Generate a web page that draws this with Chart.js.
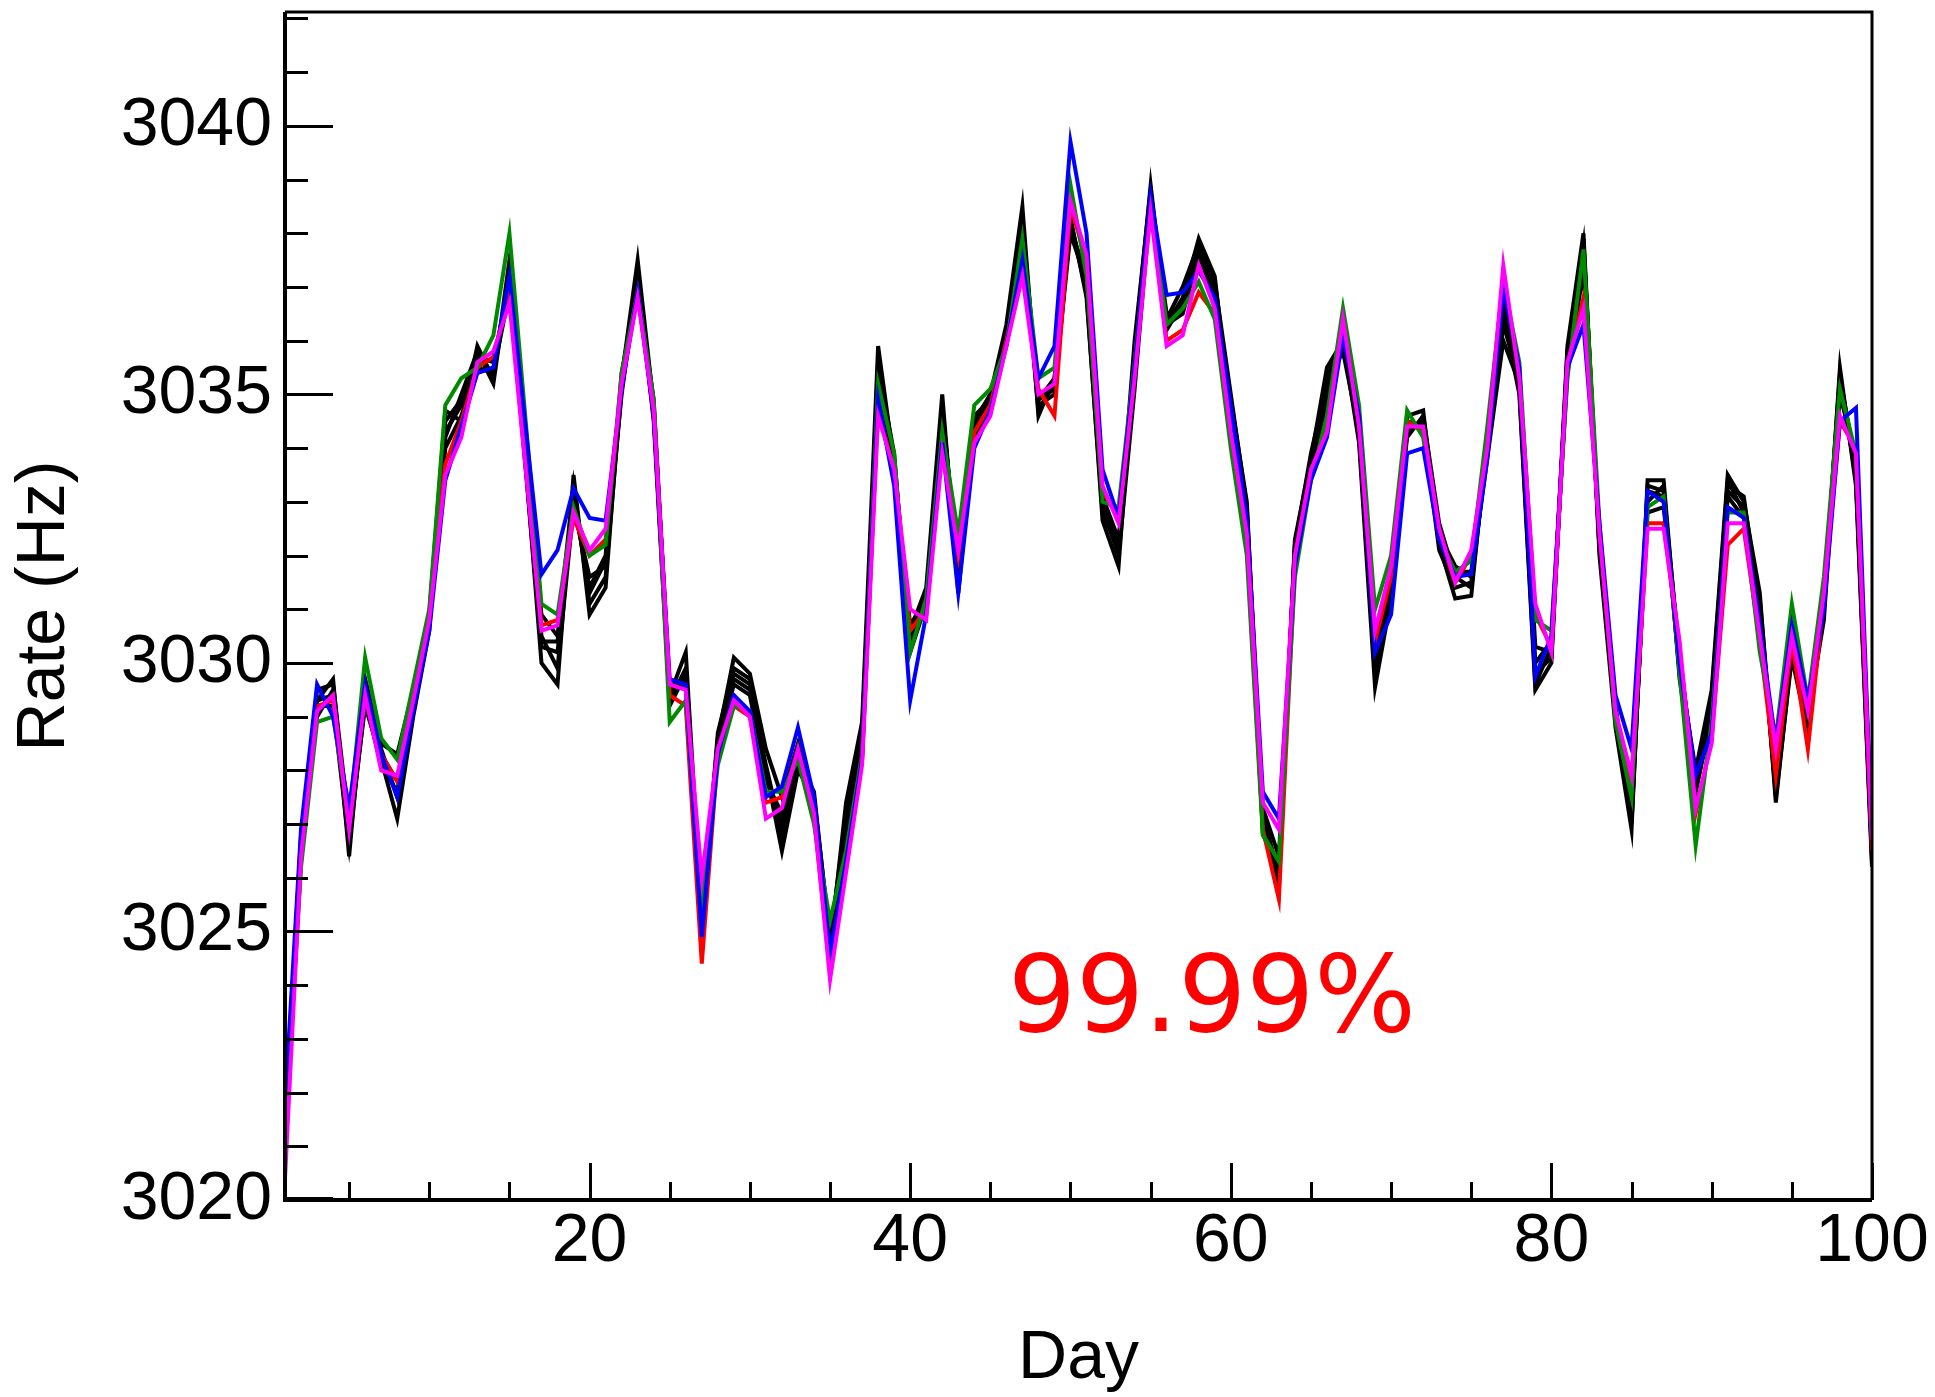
<!DOCTYPE html>
<html>
<head>
<meta charset="utf-8">
<title>Rate vs Day</title>
<script src="https://cdn.jsdelivr.net/npm/chart.js@4.4.1/dist/chart.umd.min.js"></script>
<style>
  html, body { margin: 0; padding: 0; background: #fff; }
  canvas { display: block; }
</style>
</head>
<body>
<canvas id="rateChart" width="1935" height="1397"></canvas>
<script>
// days with a measurement (no point on day 16)
const days = [
  1, 2, 3, 4, 5, 6, 7, 8, 9, 10,
  11, 12, 13, 14, 15, 17, 18, 19, 20, 21,
  22, 23, 24, 25, 26, 27, 28, 29, 30, 31,
  32, 33, 34, 35, 36, 37, 38, 39, 40, 41,
  42, 43, 44, 45, 46, 47, 48, 49, 50, 51,
  52, 53, 54, 55, 56, 57, 58, 59, 60, 61,
  62, 63, 64, 65, 66, 67, 68, 69, 70, 71,
  72, 73, 74, 75, 76, 77, 78, 79, 80, 81,
  82, 83, 84, 85, 86, 87, 88, 89, 90, 91,
  92, 93, 94, 95, 96, 97, 98, 99, 100
];

const rateMagenta = [
  3020.4, 3026.4, 3029.1, 3029.4, 3026.9, 3029.4, 3028.0, 3027.9, 3029.3, 3030.8,
  3033.5, 3034.2, 3035.6, 3035.8, 3036.7, 3030.6, 3030.7, 3032.8, 3032.1, 3032.5,
  3035.2, 3036.8, 3034.7, 3029.6, 3029.5, 3026.0, 3028.4, 3029.3, 3029.0, 3027.1,
  3027.3, 3028.4, 3027.2, 3024.1, 3026.1, 3028.1, 3034.6, 3033.6, 3031.0, 3030.8,
  3033.9, 3032.1, 3034.1, 3034.6, 3035.9, 3037.2, 3035.0, 3035.2, 3038.6, 3037.6,
  3033.3, 3032.6, 3035.3, 3038.4, 3035.9, 3036.1, 3037.4, 3036.6, 3034.3, 3032.4,
  3027.4, 3026.9, 3032.0, 3033.6, 3034.3, 3036.4, 3034.4, 3030.6, 3031.8, 3034.4,
  3034.4, 3032.5, 3031.5, 3032.1, 3034.0, 3037.4, 3035.3, 3031.1, 3030.2, 3035.6,
  3036.6, 3032.4, 3029.1, 3027.9, 3032.5, 3032.5, 3030.4, 3027.3, 3028.5, 3032.6,
  3032.6, 3030.5, 3028.4, 3030.5, 3029.1, 3031.3, 3034.6, 3033.9, 3026.7
];

const rateBlue = [
  3021.8, 3026.9, 3029.6, 3029.0, 3027.3, 3029.6, 3028.3, 3027.5, 3029.1, 3030.6,
  3033.4, 3034.4, 3035.4, 3035.5, 3037.2, 3031.65, 3032.1, 3033.25, 3032.7, 3032.65,
  3035.1, 3036.9, 3034.6, 3029.7, 3029.6, 3024.9, 3028.3, 3029.4, 3029.1, 3027.5,
  3027.7, 3028.8, 3027.5, 3024.6, 3026.3, 3028.2, 3034.9, 3033.3, 3029.3, 3030.9,
  3034.1, 3031.3, 3034.0, 3034.7, 3035.9, 3037.5, 3035.3, 3035.9, 3039.7, 3038.0,
  3033.6, 3032.7, 3035.5, 3038.7, 3036.85, 3036.9, 3037.3, 3036.8, 3034.8, 3032.7,
  3027.6, 3027.1, 3031.8, 3033.4, 3034.2, 3036.1, 3034.6, 3030.2, 3030.9, 3033.9,
  3034.0, 3032.3, 3031.6, 3031.65, 3033.8, 3037.0, 3035.5, 3029.75, 3030.5, 3035.5,
  3036.3, 3032.6, 3029.4, 3028.4, 3033.2, 3033.0, 3030.0, 3027.9, 3028.7, 3032.9,
  3032.7, 3030.7, 3028.5, 3030.7, 3029.3, 3031.0, 3034.5, 3034.75, 3026.7
];

const rateGreen = [
  3021.2, 3026.2, 3028.9, 3029.0, 3027.1, 3030.1, 3028.6, 3028.2, 3029.6, 3031.0,
  3034.8, 3035.3, 3035.5, 3036.1, 3038.0, 3031.1, 3030.9, 3032.9, 3032.0, 3032.2,
  3035.4, 3036.9, 3034.9, 3028.9, 3029.3, 3025.4, 3028.1, 3029.2, 3029.1, 3027.6,
  3027.6, 3028.2, 3027.0, 3025.2, 3026.5, 3028.3, 3035.2, 3033.9, 3030.2, 3031.2,
  3034.3, 3032.4, 3034.8, 3035.1, 3035.9, 3037.9, 3035.3, 3035.5, 3038.9, 3037.2,
  3033.0, 3032.9, 3035.6, 3038.6, 3036.3, 3036.6, 3037.1, 3036.4, 3034.0, 3032.0,
  3026.8, 3026.3, 3031.6, 3033.4, 3034.6, 3036.6, 3034.8, 3031.0, 3032.0, 3034.7,
  3034.2, 3032.3, 3031.7, 3031.9, 3034.4, 3037.1, 3035.6, 3030.8, 3030.6, 3035.3,
  3037.7, 3032.6, 3028.9, 3027.5, 3032.9, 3033.1, 3029.8, 3026.6, 3028.9, 3032.8,
  3032.8, 3030.2, 3028.6, 3031.1, 3029.3, 3031.6, 3035.1, 3033.9, 3026.8
];

const rateRed = [
  3020.8, 3026.6, 3029.2, 3029.3, 3027.0, 3029.5, 3028.3, 3027.8, 3029.4, 3030.9,
  3033.7, 3034.5, 3035.5, 3035.7, 3036.9, 3030.7, 3030.8, 3032.7, 3032.0, 3032.3,
  3035.2, 3036.9, 3034.8, 3029.4, 3029.2, 3024.4, 3028.3, 3029.2, 3029.0, 3027.4,
  3027.5, 3028.3, 3027.1, 3024.3, 3026.2, 3028.2, 3034.8, 3033.5, 3030.6, 3031.0,
  3034.0, 3032.0, 3034.3, 3034.8, 3036.0, 3037.4, 3035.1, 3034.6, 3038.5, 3037.5,
  3033.2, 3032.7, 3035.4, 3038.5, 3036.0, 3036.2, 3036.9, 3036.5, 3034.2, 3032.2,
  3026.9, 3025.6, 3031.8, 3033.5, 3034.4, 3036.5, 3034.5, 3030.4, 3031.6, 3034.5,
  3034.3, 3032.4, 3031.5, 3032.0, 3034.1, 3037.2, 3035.4, 3030.9, 3030.3, 3035.5,
  3036.8, 3032.5, 3029.0, 3027.7, 3032.6, 3032.6, 3030.2, 3027.2, 3028.6, 3032.2,
  3032.5, 3030.4, 3027.9, 3030.4, 3028.4, 3031.2, 3034.5, 3034.0, 3026.5
];

// the remaining runs, all drawn in black
const rateBlack = [
  [
    3021.3, 3026.8, 3029.3, 3029.7, 3026.4, 3029.7, 3028.5, 3028.3, 3029.5, 3030.9,
    3034.7, 3034.5, 3035.9, 3035.3, 3037.5, 3030.0, 3029.6, 3033.5, 3030.9, 3031.4,
    3035.3, 3037.5, 3034.8, 3029.4, 3030.2, 3025.2, 3028.6, 3030.1, 3029.8, 3028.4,
    3027.5, 3028.5, 3027.3, 3024.7, 3027.4, 3028.9, 3035.9, 3033.7, 3030.6, 3031.4,
    3035.0, 3031.3, 3034.4, 3035.0, 3036.3, 3038.5, 3034.6, 3035.3, 3038.2, 3036.9,
    3032.65, 3031.8, 3035.8, 3038.9, 3036.3, 3036.8, 3037.9, 3037.2, 3034.6, 3032.8,
    3027.0, 3025.8, 3032.3, 3033.8, 3035.5, 3036.0, 3034.1, 3029.55, 3031.2, 3034.6,
    3034.7, 3032.2, 3031.2, 3031.25, 3034.2, 3036.5, 3035.0, 3029.5, 3030.0, 3035.9,
    3038.0, 3032.0, 3028.8, 3026.9, 3033.4, 3033.4, 3029.9, 3028.0, 3029.5, 3033.5,
    3033.0, 3031.3, 3027.4, 3030.2, 3028.8, 3031.0, 3035.5, 3033.3, 3026.2
  ],
  [
    3021.0, 3026.5, 3029.0, 3029.5, 3026.8, 3029.2, 3028.2, 3027.1, 3029.0, 3030.6,
    3034.5, 3034.9, 3035.4, 3035.5, 3037.0, 3030.3, 3030.2, 3033.2, 3031.3, 3031.9,
    3035.0, 3037.2, 3034.5, 3029.2, 3029.8, 3024.7, 3028.5, 3029.8, 3029.6, 3028.0,
    3026.5, 3028.0, 3027.5, 3024.9, 3027.0, 3028.6, 3035.5, 3033.9, 3030.2, 3031.1,
    3034.6, 3031.6, 3034.6, 3034.9, 3036.2, 3038.1, 3034.8, 3035.0, 3038.2, 3037.0,
    3032.9, 3032.0, 3035.1, 3038.6, 3036.5, 3036.6, 3037.7, 3037.0, 3034.9, 3033.0,
    3026.8, 3026.2, 3032.2, 3033.9, 3035.2, 3035.8, 3034.3, 3029.8, 3031.4, 3034.3,
    3034.5, 3032.4, 3031.8, 3031.6, 3033.8, 3036.0, 3035.2, 3029.8, 3030.1, 3035.7,
    3037.6, 3032.2, 3029.0, 3027.3, 3033.3, 3033.2, 3030.1, 3027.8, 3029.3, 3033.2,
    3032.9, 3031.2, 3027.8, 3030.4, 3029.0, 3030.8, 3035.2, 3033.5, 3026.4
  ],
  [
    3021.5, 3026.7, 3029.5, 3029.6, 3027.0, 3029.5, 3028.4, 3027.5, 3029.2, 3030.8,
    3034.2, 3035.0, 3035.8, 3035.2, 3037.3, 3030.5, 3029.9, 3032.9, 3031.6, 3031.8,
    3035.4, 3037.0, 3034.9, 3029.5, 3029.6, 3025.1, 3028.7, 3029.9, 3029.7, 3027.9,
    3027.0, 3028.2, 3027.6, 3024.8, 3027.2, 3028.7, 3035.4, 3033.8, 3030.4, 3031.2,
    3034.7, 3031.8, 3034.3, 3034.9, 3036.0, 3038.2, 3034.9, 3035.1, 3038.0, 3037.1,
    3033.0, 3032.2, 3036.0, 3038.8, 3036.4, 3037.0, 3037.8, 3037.1, 3035.0, 3032.9,
    3027.2, 3026.0, 3032.2, 3033.7, 3035.0, 3036.2, 3034.6, 3030.1, 3031.5, 3034.2,
    3034.6, 3032.6, 3031.6, 3031.4, 3034.0, 3036.3, 3035.3, 3030.3, 3030.2, 3035.8,
    3037.8, 3032.3, 3029.2, 3027.1, 3033.0, 3033.3, 3029.7, 3027.6, 3029.2, 3033.3,
    3033.1, 3031.0, 3027.6, 3030.3, 3028.9, 3031.2, 3035.3, 3033.7, 3026.5
  ],
  [
    3021.2, 3026.3, 3029.2, 3029.2, 3026.6, 3029.3, 3028.1, 3027.6, 3029.4, 3030.7,
    3034.0, 3034.6, 3035.5, 3035.4, 3036.9, 3030.9, 3030.5, 3033.3, 3031.1, 3031.6,
    3035.1, 3037.1, 3034.6, 3029.3, 3029.9, 3024.9, 3028.4, 3029.7, 3029.5, 3028.1,
    3026.8, 3028.3, 3027.4, 3024.5, 3026.9, 3028.5, 3035.6, 3033.5, 3030.5, 3031.0,
    3034.8, 3031.5, 3034.2, 3034.8, 3036.1, 3038.0, 3034.7, 3035.2, 3038.3, 3036.8,
    3032.8, 3032.1, 3035.6, 3038.7, 3036.2, 3036.7, 3037.6, 3036.9, 3034.7, 3032.6,
    3027.1, 3026.1, 3032.1, 3033.5, 3035.3, 3036.1, 3034.2, 3029.9, 3031.3, 3034.5,
    3034.4, 3032.1, 3031.4, 3031.5, 3034.1, 3036.7, 3035.1, 3029.6, 3030.3, 3035.6,
    3037.9, 3032.1, 3029.0, 3027.0, 3033.2, 3033.1, 3029.8, 3027.9, 3029.4, 3033.4,
    3032.8, 3031.1, 3027.5, 3030.1, 3028.7, 3031.1, 3035.4, 3033.4, 3026.3
  ],
  [
    3020.9, 3026.6, 3029.3, 3029.4, 3026.7, 3029.6, 3028.3, 3027.8, 3029.3, 3030.9,
    3034.3, 3034.8, 3035.7, 3035.6, 3037.1, 3030.4, 3030.4, 3033.0, 3031.4, 3032.0,
    3035.3, 3036.9, 3034.7, 3029.5, 3029.7, 3025.3, 3028.5, 3029.6, 3029.4, 3027.8,
    3027.2, 3028.4, 3027.3, 3024.6, 3026.6, 3028.3, 3035.3, 3033.6, 3030.7, 3031.2,
    3034.4, 3031.9, 3034.5, 3035.0, 3036.1, 3037.8, 3034.9, 3035.3, 3038.1, 3037.2,
    3033.1, 3032.3, 3035.4, 3038.6, 3036.3, 3036.5, 3037.6, 3036.8, 3034.5, 3032.5,
    3027.3, 3026.4, 3031.9, 3033.6, 3034.9, 3036.3, 3034.5, 3030.3, 3031.6, 3034.3,
    3034.5, 3032.4, 3031.7, 3031.7, 3034.0, 3036.9, 3035.4, 3030.0, 3030.4, 3035.4,
    3037.3, 3032.4, 3029.1, 3027.4, 3032.8, 3032.9, 3030.2, 3027.6, 3029.0, 3033.1,
    3032.7, 3030.9, 3027.8, 3030.5, 3029.0, 3031.1, 3035.0, 3033.8, 3026.6
  ]
];

const xTickValues = [20, 40, 60, 80, 100];
const yTickValues = [3020, 3025, 3030, 3035, 3040];
const xRange = [1, 100];
const yRange = [3020, 3042.12];
const efficiencyLabel = '99.99%';
const efficiencyPos = { day: 46.1, rate: 3023.15 };

const FONT = "'Liberation Sans', Arial, Helvetica, sans-serif";

function toPoints(values) {
  return values.map((v, i) => ({ x: days[i], y: v }));
}

function series(values, color) {
  return {
    data: toPoints(values),
    borderColor: color,
    backgroundColor: color,
    borderWidth: 4,
    pointRadius: 0,
    showLine: true,
    fill: false,
    tension: 0
  };
}

// first dataset ends up on top
const datasets = [
  series(rateMagenta, '#ff00ff'),
  series(rateBlue, '#0000ff'),
  series(rateGreen, '#008a00'),
  series(rateRed, '#ff0000'),
  ...rateBlack.map(vals => series(vals, '#000000'))
];

// ROOT-like frame with inward major/minor ticks, plus the red label
const frameTicks = {
  id: 'frameTicks',
  afterDatasetsDraw(chart) {
    const { ctx, chartArea: a, scales: { x, y } } = chart;
    ctx.save();
    ctx.strokeStyle = '#000';
    ctx.lineWidth = 3;
    ctx.beginPath();
    for (let v = Math.ceil(yRange[0]); v <= yRange[1]; v++) {
      const py = Math.round(y.getPixelForValue(v)) - (v === yRange[0] ? 2 : 0) + 0.5;
      const len = v % 5 === 0 ? 48 : 23;
      ctx.moveTo(a.left, py);
      ctx.lineTo(a.left + len, py);
    }
    for (let d = 5; d <= xRange[1]; d += 5) {
      const px = Math.round(x.getPixelForValue(d)) + 0.5;
      const len = d % 20 === 0 ? 37 : 18;
      ctx.moveTo(px, a.bottom);
      ctx.lineTo(px, a.bottom - len);
    }
    ctx.stroke();

    // top and right edges of the frame
    ctx.beginPath();
    ctx.moveTo(a.left, a.top);
    ctx.lineTo(a.right, a.top);
    ctx.lineTo(a.right, a.bottom);
    ctx.stroke();

    // heavier axis lines on the left and bottom
    ctx.lineWidth = 4;
    ctx.beginPath();
    ctx.moveTo(a.left, a.top);
    ctx.lineTo(a.left, a.bottom);
    ctx.lineTo(a.right, a.bottom);
    ctx.stroke();

    ctx.fillStyle = '#ff0000';
    ctx.font = "107px 'DejaVu Sans', sans-serif";
    ctx.textAlign = 'left';
    ctx.textBaseline = 'alphabetic';
    ctx.fillText(efficiencyLabel, x.getPixelForValue(efficiencyPos.day), y.getPixelForValue(efficiencyPos.rate));
    ctx.restore();
  }
};

function noEdgePadding(scale) {
  scale.paddingLeft = 0;
  scale.paddingRight = 0;
  scale.paddingTop = 0;
  scale.paddingBottom = 0;
}

new Chart(document.getElementById('rateChart'), {
  type: 'scatter',
  data: { datasets },
  options: {
    responsive: false,
    animation: false,
    devicePixelRatio: 1,
    layout: { padding: { top: 12, right: 63, bottom: 0, left: 0 } },
    plugins: {
      legend: { display: false },
      tooltip: { enabled: false }
    },
    scales: {
      x: {
        type: 'linear',
        min: xRange[0],
        max: xRange[1],
        grid: { display: false, drawTicks: false },
        border: { display: false },
        afterBuildTicks: s => { s.ticks = xTickValues.map(v => ({ value: v })); },
        afterFit: s => { s.height = 197; noEdgePadding(s); },
        ticks: {
          color: '#000',
          font: { family: FONT, size: 68, lineHeight: 1.0 },
          padding: 8,
          maxRotation: 0,
          minRotation: 0,
          autoSkip: false,
          callback: v => String(v)
        },
        title: {
          display: true,
          text: 'Day',
          color: '#000',
          font: { family: FONT, size: 68, lineHeight: 1.1 },
          padding: { top: 0, bottom: 0 }
        }
      },
      y: {
        type: 'linear',
        min: yRange[0],
        max: yRange[1],
        grid: { display: false, drawTicks: false },
        border: { display: false },
        afterBuildTicks: s => { s.ticks = yTickValues.map(v => ({ value: v })); },
        afterFit: s => { s.width = 285; noEdgePadding(s); },
        ticks: {
          color: '#000',
          font: { family: FONT, size: 68 },
          padding: 13,
          autoSkip: false,
          callback: v => String(v)
        },
        title: {
          display: true,
          text: 'Rate (Hz)',
          color: '#000',
          font: { family: FONT, size: 68, lineHeight: 1.1 },
          padding: { top: 8, bottom: 0 }
        }
      }
    }
  },
  plugins: [frameTicks]
});
</script>
</body>
</html>
